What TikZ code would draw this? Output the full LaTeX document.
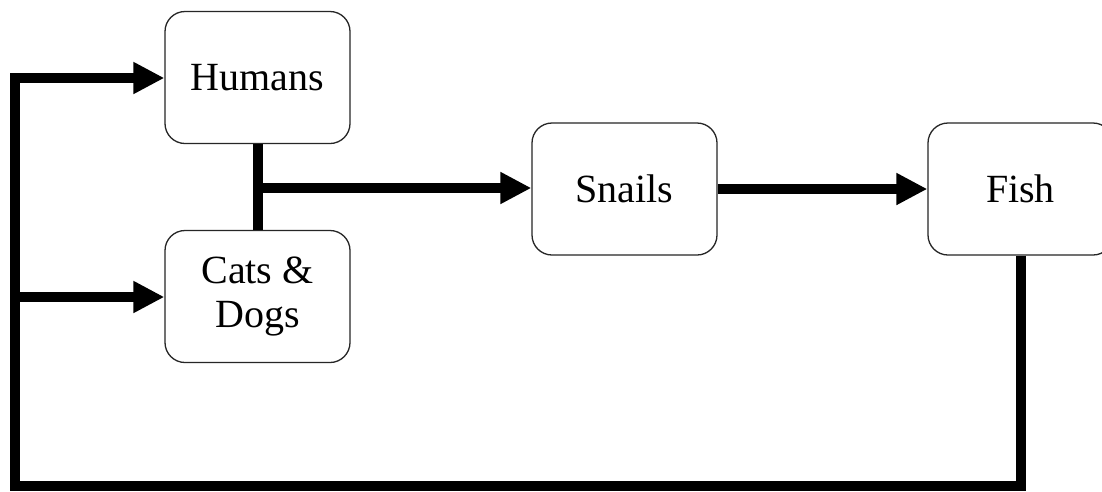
\documentclass[tikz,border=0pt]{standalone}
\usepackage{fontspec}
\setmainfont{Liberation Serif}
\usetikzlibrary{arrows.meta}
\begin{document}
\begin{tikzpicture}[x=1pt,y=-1pt,
  box/.style={draw=black!85, line width=1.3pt, rounded corners=20pt, fill=white,
    minimum width=185pt, minimum height=132pt, align=center,
    font=\fontsize{40}{44}\selectfont, inner sep=0pt},
  flow/.style={line width=10pt, line join=miter},
  arr/.style={flow, -{Triangle[length=31pt,width=30pt]}}]
\useasboundingbox[fill=white] (0,0) rectangle (1102,491);
\node[box] (humans) at (257.5,77.5) {Humans};
\node[box] (cats) at (257.5,296.5) {Cats \&\\Dogs};
\node[box] (snails) at (624.5,189) {Snails};
\node[box] (fish) at (1020.5,189) {Fish};
\coordinate (j) at (257.5,188);
\coordinate (bl) at (15,486);
\coordinate (tl) at (15,78);
\coordinate (ml) at (15,297);
\draw[flow] (humans.south) -- (cats.north);
\draw[arr] (j) -- (j -| snails.west);
\draw[arr] (snails.east) -- (snails.east -| fish.west);
\draw[arr] (fish.south) -- (fish.south |- bl) -- (bl) -- (tl) -- (tl -| humans.west);
\draw[arr] (ml) -- (ml -| cats.west);
\end{tikzpicture}
\end{document}
